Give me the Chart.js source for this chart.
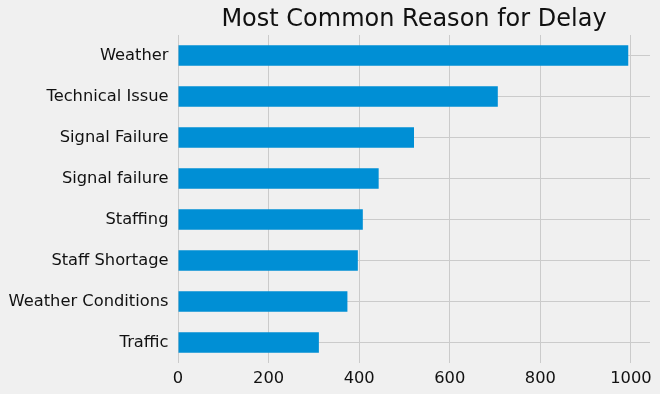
<!DOCTYPE html>
<html>
<head>
<meta charset="utf-8">
<script src="https://cdn.jsdelivr.net/npm/chart.js@4"></script>
<style>
  html, body { margin: 0; padding: 0; background: #f0f0f0; }
  #wrap { width: 660px; height: 394px; }
</style>
</head>
<body>
<div id="wrap"><canvas id="c" width="660" height="394"></canvas></div>
<script>
const categories = ["Weather", "Technical Issue", "Signal Failure", "Signal failure", "Staffing", "Staff Shortage", "Weather Conditions", "Traffic"];
const delayCounts = [994, 706, 521, 443, 408, 397, 374, 311];
const xTicks = [0, 200, 400, 600, 800, 1000];
const xMax = 1042;
const titleText = "Most Common Reason for Delay";
const FONT = "'DejaVu Sans', sans-serif";

const bgPlugin = {
  id: 'bg',
  beforeDraw(chart) {
    const ctx = chart.ctx;
    ctx.save();
    ctx.fillStyle = '#f0f0f0';
    ctx.fillRect(0, 0, chart.width, chart.height);
    ctx.restore();
  },
  afterLayout(chart) {
    const t = chart.titleBlock;
    if (t) {
      t.left = chart.chartArea.left;
      t.right = chart.chartArea.right;
      t.width = t.right - t.left;
    }
  }
};

new Chart(document.getElementById('c'), {
  type: 'bar',
  data: {
    labels: categories,
    datasets: [{
      data: delayCounts,
      backgroundColor: '#008fd5',
      borderWidth: 0,
      barPercentage: 0.5,
      categoryPercentage: 1.0
    }]
  },
  options: {
    indexAxis: 'y',
    responsive: false,
    animation: false,
    layout: { padding: { left: 0, right: 10, top: 0, bottom: 0 } },
    plugins: {
      legend: { display: false },
      tooltip: { enabled: false },
      title: {
        display: true,
        text: titleText,
        color: '#111111',
        font: { family: FONT, size: 24, weight: 'normal' },
        padding: { top: 5.2, bottom: 1 }
      }
    },
    scales: {
      x: {
        type: 'linear',
        min: 0,
        max: xMax,
        afterBuildTicks(axis) {
          axis.ticks = xTicks.map(v => ({ value: v }));
        },
        afterFit(scale) { scale.height = 31; },
        border: { display: false },
        grid: { color: '#cbcbcb', lineWidth: 1, drawTicks: false },
        ticks: {
          color: '#111111',
          padding: 6,
          font: { family: FONT, size: 16.3 },
          callback: (v) => String(v)
        }
      },
      y: {
        afterFit(scale) { scale.width = 178; },
        border: { display: false },
        grid: { color: '#cbcbcb', lineWidth: 1, drawTicks: false, offset: false },
        ticks: {
          color: '#111111',
          padding: 9.5,
          font: { family: FONT, size: 16.3 }
        }
      }
    }
  },
  plugins: [bgPlugin]
});
</script>
</body>
</html>
